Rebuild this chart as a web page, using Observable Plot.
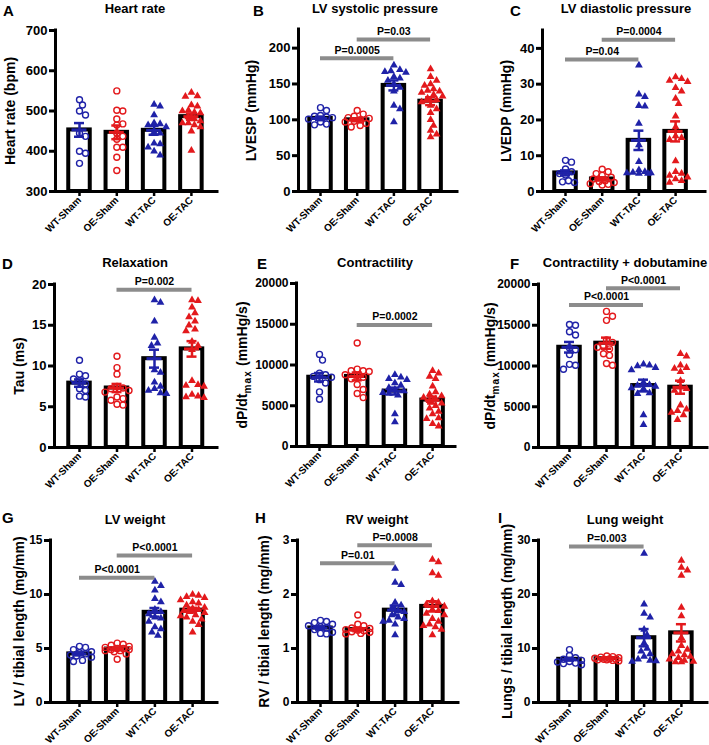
<!DOCTYPE html>
<html><head><meta charset="utf-8">
<script src="https://cdn.jsdelivr.net/npm/d3@7"></script>
<script src="https://cdn.jsdelivr.net/npm/@observablehq/plot@0.6"></script>
<style>
body{margin:0;background:#fff;}
#fig{position:relative;width:709px;height:745px;font-family:"Liberation Sans",Arial,sans-serif;color:#000;}
.letter{position:absolute;font-weight:bold;font-size:15px;line-height:1;}
.title{position:absolute;font-weight:bold;font-size:13px;line-height:1;transform:translateX(-50%);white-space:nowrap;}
.panel{position:absolute;}
</style></head><body><div id="fig"></div>
<script>
// ---------- data ----------
const groups = ["WT-Sham", "OE-Sham", "WT-TAC", "OE-TAC"];

const heartRate = [
  [528, 515, 500, 490, 445, 437, 400, 395, 370],
  [550, 502, 500, 480, 468, 465, 445, 437, 430, 410, 410, 385, 352],
  [516, 512, 490, 470, 468, 465, 460, 448, 445, 420, 418, 410, 400, 390],
  [546, 537, 536, 515, 512, 502, 500, 497, 495, 485, 480, 475, 470, 470, 465, 460, 450, 402]
];
const heartRateMean = [453, 447, 452, 486];
const heartRateSem = [17, 17, 11, 8];

const lvesp = [
  [117, 113, 106, 105, 104, 103, 101, 97, 94, 93],
  [113, 108, 105, 103, 102, 100, 98, 97, 95, 92, 90],
  [176, 170, 168, 167, 166, 160, 158, 155, 150, 145, 140, 120, 115, 97],
  [171, 160, 155, 150, 148, 143, 141, 140, 138, 135, 133, 130, 128, 125, 120, 115, 110, 100, 92, 85, 80, 76]
];
const lvespMean = [102, 100, 148, 126];
const lvespSem = [2.5, 2, 7, 5.5];

const lvedp = [
  [8.7, 8.2, 6.3, 5.5, 5.0, 4.6, 3.0, 2.7, 2.5],
  [6.2, 5.5, 5.0, 4.5, 4.0, 3.5, 3.0, 2.8, 2.5, 2.2, 2.0, 1.8],
  [35.3, 27.2, 26.5, 24.0, 23.8, 19.0, 13.0, 8.3, 6.0, 5.5, 5.3, 5.2, 5.2, 5.0, 5.0],
  [32.0, 31.5, 31.0, 30.7, 29.0, 28.0, 26.0, 24.5, 21.0, 18.0, 15.5, 15.0, 14.5, 8.5, 5.5, 5.0, 4.5, 4.0, 3.5, 3.0, 2.5]
];
const lvedpMean = [5.2, 3.5, 14.3, 16.8];
const lvedpSem = [0.7, 0.45, 2.7, 2.8];

const tau = [
  [10.7, 9.0, 8.8, 8.4, 8.2, 7.8, 7.2, 7.0, 6.3, 6.2],
  [11.2, 9.8, 9.0, 7.5, 7.3, 7.2, 7.0, 6.8, 6.2, 6.0, 5.8, 5.3, 5.2],
  [18.1, 17.8, 15.5, 13.5, 12.8, 12.5, 9.5, 9.2, 8.0, 7.5, 7.2, 7.0, 6.7, 6.6],
  [18.1, 18.0, 17.2, 16.5, 16.0, 15.5, 15.0, 14.5, 14.3, 13.0, 12.5, 12.0, 8.2, 7.7, 7.6, 7.5, 6.5, 6.3, 6.2, 6.1]
];
const tauMean = [7.9, 7.3, 10.9, 12.1];
const tauSem = [0.45, 0.5, 1.1, 0.95];

const dpdt = [
  [11300, 10600, 9000, 8800, 8600, 8500, 8200, 7800, 6700, 5800],
  [12700, 9500, 9300, 9300, 9200, 8800, 8700, 8500, 8300, 7600, 7000, 6500, 6000],
  [8800, 8500, 8300, 8200, 7800, 7500, 7200, 7000, 6800, 6600, 6500, 6300, 4000, 3000],
  [9300, 9000, 8600, 8300, 7400, 6700, 6400, 6200, 6000, 5800, 5600, 5300, 5000, 4700, 4300, 4000, 3500, 3400, 2800, 2500]
];
const dpdtMean = [8500, 8600, 6800, 5700];
const dpdtSem = [520, 480, 420, 430];

const dpdtDob = [
  [15100, 15000, 14200, 13800, 12200, 12000, 11400, 10200, 10100, 9600],
  [16700, 16100, 15600, 13200, 12900, 12500, 12300, 12100, 11500, 11300, 10300, 10100],
  [10200, 10100, 10000, 9800, 9500, 8000, 7700, 7600, 7500, 7300, 7200, 6700, 6600, 4000, 2800],
  [11500, 11200, 10100, 9800, 9700, 9300, 8200, 7400, 7200, 7000, 5200, 4700, 4500, 4300, 4000, 3400]
];
const dpdtDobMean = [12300, 12800, 7600, 7400];
const dpdtDobSem = [650, 680, 720, 800];

const lvWeight = [
  [5.2, 5.1, 4.9, 4.7, 4.6, 4.5, 4.4, 4.3, 4.2, 3.9, 3.8],
  [5.5, 5.4, 5.3, 5.2, 5.1, 5.0, 5.0, 4.9, 4.9, 4.8, 4.8, 4.7, 4.5, 4.0],
  [11.2, 10.8, 10.4, 9.6, 9.3, 8.6, 8.4, 8.2, 7.9, 7.8, 7.5, 7.0, 6.8, 6.5, 6.2],
  [10.0, 9.9, 9.8, 9.7, 9.5, 9.3, 9.2, 9.0, 8.8, 8.7, 8.6, 8.5, 8.4, 8.3, 8.1, 8.0, 7.9, 7.7, 7.5, 7.2, 6.5]
];
const lvWeightMean = [4.5, 4.95, 8.35, 8.55];
const lvWeightSem = [0.14, 0.11, 0.4, 0.22];

const rvWeight = [
  [1.52, 1.50, 1.48, 1.45, 1.42, 1.40, 1.38, 1.35, 1.30, 1.28, 1.27],
  [1.62, 1.45, 1.42, 1.38, 1.37, 1.35, 1.34, 1.33, 1.31, 1.30, 1.28, 1.27],
  [2.48, 2.22, 2.18, 1.85, 1.80, 1.75, 1.70, 1.68, 1.62, 1.58, 1.55, 1.52, 1.50, 1.45, 1.25],
  [2.65, 2.60, 2.40, 2.35, 1.88, 1.85, 1.82, 1.78, 1.72, 1.70, 1.65, 1.62, 1.55, 1.50, 1.45, 1.42, 1.40, 1.35, 1.25]
];
const rvWeightMean = [1.38, 1.35, 1.71, 1.78];
const rvWeightSem = [0.03, 0.03, 0.085, 0.095];

const lungWeight = [
  [9.8, 8.7, 8.3, 8.0, 7.8, 7.6, 7.5, 7.3, 7.2, 7.0],
  [8.6, 8.5, 8.4, 8.3, 8.2, 8.1, 8.0, 8.0, 7.9, 7.9, 7.8, 7.7],
  [27.6, 18.2, 16.5, 15.8, 13.5, 12.5, 11.0, 10.0, 9.5, 9.0, 8.5, 8.0, 7.8, 7.7, 7.6],
  [26.3, 25.0, 24.5, 23.5, 17.6, 16.0, 12.0, 10.5, 9.8, 9.5, 9.0, 8.8, 8.5, 8.3, 8.0, 7.8, 7.6, 7.5, 7.5]
];
const lungWeightMean = [8.0, 8.1, 12.0, 12.9];
const lungWeightSem = [0.25, 0.1, 1.6, 1.6];

// significance comparisons: from group, to group, level (data units), label
const lvespSig = [{from: 0, to: 2, y: 186, label: "P=0.0005"}, {from: 1, to: 3, y: 212, label: "P=0.03"}];
const lvedpSig = [{from: 0, to: 2, y: 36.9, label: "P=0.04"}, {from: 1, to: 3, y: 42.4, label: "P=0.0004"}];
const tauSig = [{from: 1, to: 3, y: 19.35, label: "P=0.002"}];
const dpdtSig = [{from: 1, to: 3, y: 14900, label: "P=0.0002"}];
const dpdtDobSig = [{from: 0, to: 2, y: 17500, label: "P<0.0001"}, {from: 1, to: 3, y: 19550, label: "P<0.0001"}];
const lvWeightSig = [{from: 0, to: 2, y: 11.55, label: "P<0.0001"}, {from: 1, to: 3, y: 13.6, label: "P<0.0001"}];
const rvWeightSig = [{from: 0, to: 2, y: 2.58, label: "P=0.01"}, {from: 1, to: 3, y: 2.91, label: "P=0.0008"}];
const lungWeightSig = [{from: 0, to: 2, y: 28.9, label: "P=0.003"}];

const ticksHR = [300, 400, 500, 600, 700];
const ticksLVESP = [0, 50, 100, 150, 200];
const ticksLVEDP = [0, 10, 20, 30, 40];
const ticksTau = [0, 5, 10, 15, 20];
const ticksDpdt = [0, 5000, 10000, 15000, 20000];
const ticksLV = [0, 5, 10, 15];
const ticksRV = [0, 1, 2, 3];
const ticksLung = [0, 10, 20, 30];

// ---------- panel definitions ----------
const panels = [
  {letter: "A", title: "Heart rate", ylabel: "Heart rate (bpm)", values: heartRate, mean: heartRateMean, sem: heartRateSem, sig: [], yDomain: [300, 700], yTicks: ticksHR,
   box: [0, 0, 235, 240], frame: {left: 55, right: 217, top: 30, bottom: 191}, c0: 79, step: 37.3, labelX: 10, tickFont: 13, letterPos: [3, 3], titlePos: [135, 2]},
  {letter: "B", title: "LV systolic pressure", ylabel: "LVESP (mmHg)", values: lvesp, mean: lvespMean, sem: lvespSem, sig: lvespSig, yDomain: [0, 226], yTicks: ticksLVESP,
   box: [235, 0, 235, 240], frame: {left: 298, right: 457, top: 29, bottom: 191}, c0: 320, step: 36.7, labelX: 251, tickFont: 13, letterPos: [253, 3], titlePos: [375, 2]},
  {letter: "C", title: "LV diastolic pressure", ylabel: "LVEDP (mmHg)", values: lvedp, mean: lvedpMean, sem: lvedpSem, sig: lvedpSig, yDomain: [0, 45], yTicks: ticksLVEDP,
   box: [470, 0, 239, 240], frame: {left: 542, right: 705, top: 30, bottom: 191}, c0: 565, step: 36.7, labelX: 506, tickFont: 13, letterPos: [510, 3], titlePos: [626, 2]},
  {letter: "D", title: "Relaxation", ylabel: "Tau (ms)", values: tau, mean: tauMean, sem: tauSem, sig: tauSig, yDomain: [0, 20], yTicks: ticksTau,
   box: [0, 240, 235, 250], frame: {left: 54, right: 217, top: 284, bottom: 447}, c0: 79, step: 37.5, labelX: 19, tickFont: 13, letterPos: [2, 256], titlePos: [135, 256]},
  {letter: "E", title: "Contractility", ylabel: "dP/dtmax (mmHg/s)", values: dpdt, mean: dpdtMean, sem: dpdtSem, sig: dpdtSig, yDomain: [0, 20000], yTicks: ticksDpdt,
   box: [235, 240, 235, 250], frame: {left: 296, right: 455, top: 283, bottom: 446}, c0: 319, step: 37.7, labelX: 242, tickFont: 12, letterPos: [257, 256], titlePos: [375, 256]},
  {letter: "F", title: "Contractility + dobutamine", ylabel: "dP/dtmax (mmHg/s)", values: dpdtDob, mean: dpdtDobMean, sem: dpdtDobSem, sig: dpdtDobSig, yDomain: [0, 20000], yTicks: ticksDpdt,
   box: [470, 240, 239, 250], frame: {left: 538, right: 707, top: 284, bottom: 447}, c0: 569, step: 37, labelX: 490, tickFont: 12, letterPos: [510, 256], titlePos: [625, 256]},
  {letter: "G", title: "LV weight", ylabel: "LV / tibial length (mg/mm)", values: lvWeight, mean: lvWeightMean, sem: lvWeightSem, sig: lvWeightSig, yDomain: [0, 15], yTicks: ticksLV,
   box: [0, 490, 235, 255], frame: {left: 50, right: 217, top: 540, bottom: 702}, c0: 79, step: 37.7, labelX: 19, tickFont: 12, letterPos: [2, 510], titlePos: [135, 513]},
  {letter: "H", title: "RV weight", ylabel: "RV / tibial length (mg/mm)", values: rvWeight, mean: rvWeightMean, sem: rvWeightSem, sig: rvWeightSig, yDomain: [0, 3], yTicks: ticksRV,
   box: [235, 490, 235, 255], frame: {left: 297, right: 458, top: 540, bottom: 702}, c0: 320, step: 37.3, labelX: 264, tickFont: 12, letterPos: [255, 510], titlePos: [377, 513]},
  {letter: "I", title: "Lung weight", ylabel: "Lungs / tibial length (mg/mm)", values: lungWeight, mean: lungWeightMean, sem: lungWeightSem, sig: lungWeightSig, yDomain: [0, 30], yTicks: ticksLung,
   box: [470, 490, 239, 255], frame: {left: 538, right: 707, top: 540, bottom: 702}, c0: 569, step: 37.3, labelX: 507, tickFont: 12, letterPos: [498, 510], titlePos: [625, 513]}
];

const BLUE = "#1f22a8", RED = "#e3191c";
const groupColor = [BLUE, RED, BLUE, RED];

// beeswarm-like horizontal spread (pixel offsets) computed from pixel y positions
function swarm(pys) {
  const n = pys.length;
  const order = d3.range(n).sort((a, b) => pys[a] - pys[b]);
  const placed = [], off = new Array(n);
  const minD = 5.8, s = 3.0, maxOff = 14;
  for (const i of order) {
    let best = null, bestScore = -1;
    for (let k = 0; k < 40; k++) {
      const c = k === 0 ? 0 : (k % 2 ? 1 : -1) * Math.ceil(k / 2) * s;
      if (Math.abs(c) > maxOff) break;
      const dmin = placed.length ? d3.min(placed, p => Math.hypot(p.x - c, p.y - pys[i])) : Infinity;
      if (dmin >= minD) { best = c; break; }
      if (dmin > bestScore) { bestScore = dmin; best = c; }
    }
    off[i] = best;
    placed.push({x: best, y: pys[i]});
  }
  return off;
}

const fig = document.getElementById("fig");

for (const p of panels) {
  const [L, T, W, H] = p.box;
  const f = p.frame;
  const ml = f.left - L, mr = L + W - f.right, mt = f.top - T, mb = T + H - f.bottom;
  const xDomain = [(f.left - p.c0) / p.step, (f.right - p.c0) / p.step];
  const yPx = d3.scaleLinear(p.yDomain, [f.bottom, f.top]);
  const u = px => px / p.step; // px -> x units

  const pts = [];
  p.values.forEach((vals, g) => {
    const offs = swarm(vals.map(yPx));
    vals.forEach((v, k) => pts.push({g, v, x: g + u(offs[k]), color: groupColor[g]}));
  });
  const stats = groups.map((name, g) => ({g, mean: p.mean[g], sem: p.sem[g], color: groupColor[g]}));
  const y0 = p.yDomain[0];
  const hw = u(10.75), mw = u(7.5), cw = u(5);

  const plot = Plot.plot({
    width: W, height: H,
    marginLeft: ml, marginRight: mr, marginTop: mt, marginBottom: mb,
    x: {domain: xDomain},
    y: {domain: p.yDomain},
    color: {type: "identity"},
    style: {background: "transparent", overflow: "visible", fontFamily: "'Liberation Sans', Arial, sans-serif", color: "#000"},
    marks: [
      Plot.rectY(stats, {x1: d => d.g - hw, x2: d => d.g + hw, y1: d => y0, y2: "mean", fill: "white", stroke: "black", strokeWidth: 4}),
      Plot.dot(pts.filter(d => d.g < 2), {x: "x", y: "v", r: 3, stroke: "color", strokeWidth: 1.4, fill: "none"}),
      Plot.dot(pts.filter(d => d.g >= 2), {x: "x", y: "v", r: 2.9, symbol: "triangle", fill: "color", stroke: "none"}),
      Plot.ruleX(stats, {x: "g", y1: d => d.mean - d.sem, y2: d => d.mean + d.sem, stroke: "color", strokeWidth: 2.5}),
      Plot.ruleY(stats, {y: "mean", x1: d => d.g - mw, x2: d => d.g + mw, stroke: "color", strokeWidth: 3}),
      Plot.ruleY(stats, {y: d => d.mean + d.sem, x1: d => d.g - cw, x2: d => d.g + cw, stroke: "color", strokeWidth: 2.5}),
      Plot.ruleY(stats, {y: d => d.mean - d.sem, x1: d => d.g - cw, x2: d => d.g + cw, stroke: "color", strokeWidth: 2.5}),
      Plot.ruleY(p.sig, {y: "y", x1: "from", x2: "to", stroke: "#8c8c8c", strokeWidth: 4}),
      Plot.text(p.sig, {x: d => (d.from + d.to) / 2, y: "y", text: "label", dy: -8, fontSize: 10.5, fontWeight: "bold", fill: "black"}),
      Plot.axisY({ticks: p.yTicks, tickFormat: d => String(d), tickSize: 6, tickPadding: 2, fontSize: p.tickFont, fontWeight: "bold", strokeWidth: 3, label: null}),
      Plot.axisX({ticks: [0, 1, 2, 3], tickFormat: i => groups[i], tickRotate: -45, tickSize: 5, tickPadding: 2, fontSize: 10, fontWeight: "bold", strokeWidth: 2.5, label: null}),
      Plot.ruleX([xDomain[0]], {strokeWidth: 3, strokeLinecap: "square"}),
      Plot.ruleY([y0], {strokeWidth: 3, strokeLinecap: "square"}),
      Plot.text([p.ylabel], {text: d => d, frameAnchor: "left", textAnchor: "middle", lineAnchor: "middle", rotate: -90, dx: p.labelX - f.left, fontSize: 14, fontWeight: "bold", fill: "black"})
    ]
  });
  plot.classList.add("panel");
  plot.style.left = L + "px";
  plot.style.top = T + "px";

  // subscript for dP/dt max
  plot.querySelectorAll("text").forEach(t => {
    if (t.textContent === "dP/dtmax (mmHg/s)") {
      const ns = "http://www.w3.org/2000/svg";
      t.textContent = "";
      const a = document.createElementNS(ns, "tspan"); a.textContent = "dP/dt";
      const b = document.createElementNS(ns, "tspan"); b.textContent = "max";
      b.setAttribute("dy", "4"); b.setAttribute("font-size", "10"); b.setAttribute("letter-spacing", "1.2");
      const c = document.createElementNS(ns, "tspan"); c.textContent = " (mmHg/s)"; c.setAttribute("dy", "-4");
      t.append(a, b, c);
    }
  });
  fig.appendChild(plot);

  const lt = document.createElement("div");
  lt.className = "letter"; lt.textContent = p.letter;
  lt.style.left = p.letterPos[0] + "px"; lt.style.top = p.letterPos[1] + "px";
  fig.appendChild(lt);

  const tt = document.createElement("div");
  tt.className = "title"; tt.textContent = p.title;
  tt.style.left = p.titlePos[0] + "px"; tt.style.top = p.titlePos[1] + "px";
  fig.appendChild(tt);
}
</script>
</body></html>
